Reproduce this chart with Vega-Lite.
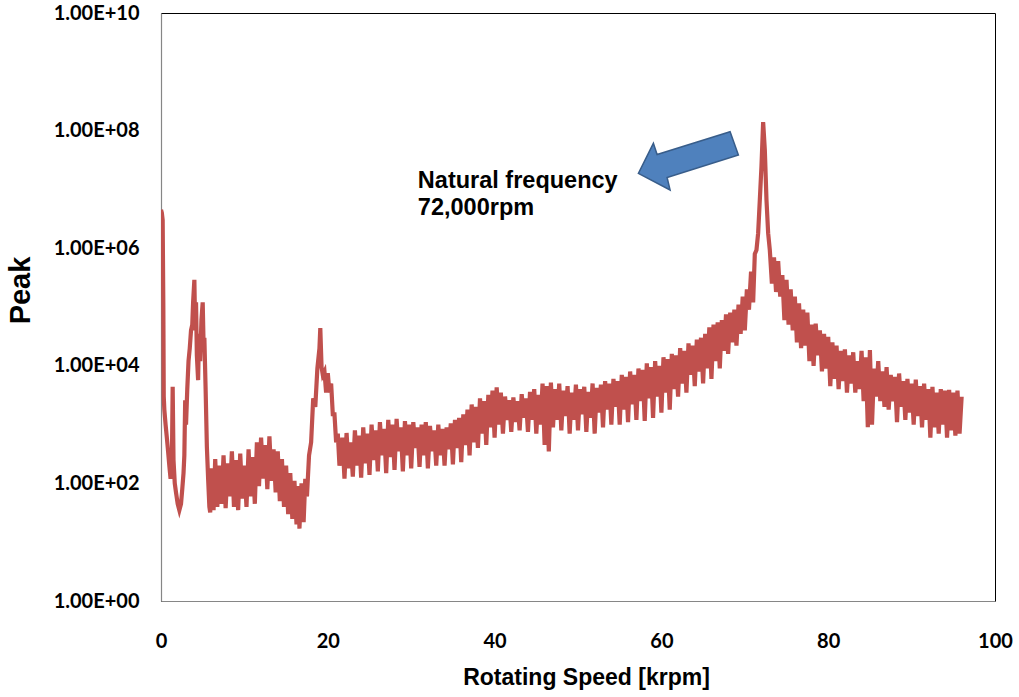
{
  "$schema": "https://vega.github.io/schema/vega-lite/v6.json",
  "autosize": {"type": "none"},
  "width": 834,
  "height": 588,
  "padding": {"left": 161, "top": 13, "right": 24, "bottom": 96},
  "background": "white",
  "config": {
    "view": {"stroke": "#000000", "strokeWidth": 1},
    "axis": {"grid": false, "ticks": false, "domainColor": "#868686", "domainWidth": 1.2, "labelFont": "Lato", "labelFontWeight": "bold", "labelFontSize": 20, "labelColor": "#000000", "titleFont": "Liberation Sans", "titleFontWeight": "bold", "titleColor": "#000000"}
  },
  "datasets": {
    "spectrum": [
      {"x":0.0,"y":4500000},{"x":0.1,"y":4000000},{"x":0.2,"y":3000000},{"x":0.28,"y":100000},{"x":0.33,"y":3000},{"x":0.4,"y":1800},{"x":0.55,"y":1000},{"x":0.7,"y":600},{"x":0.85,"y":350},{"x":1.0,"y":200},{"x":1.15,"y":120},{"x":1.3,"y":200},{"x":1.4,"y":4400},{"x":1.5,"y":250},{"x":1.65,"y":100},{"x":1.8,"y":70},{"x":2.0,"y":45},{"x":2.2,"y":35},{"x":2.4,"y":45},{"x":2.55,"y":80},{"x":2.7,"y":150},{"x":2.8,"y":300},{"x":2.9,"y":2600},{"x":3.0,"y":1000},{"x":3.15,"y":4000},{"x":3.3,"y":12000},{"x":3.45,"y":20000},{"x":3.6,"y":40000},{"x":3.75,"y":50000},{"x":3.85,"y":120000},{"x":4.0,"y":290000},{"x":4.1,"y":40000},{"x":4.2,"y":120000},{"x":4.3,"y":15000},{"x":4.45,"y":5700},{"x":4.55,"y":35000},{"x":4.7,"y":12000},{"x":4.85,"y":60000},{"x":5.0,"y":120000},{"x":5.1,"y":25000},{"x":5.2,"y":30000},{"x":5.35,"y":4000},{"x":5.5,"y":420},{"x":5.65,"y":120},{"x":5.8,"y":40},{"x":5.9,"y":32},
      {"x":6.1,"y":180},{"x":6.3,"y":35},{"x":6.5,"y":260},{"x":6.75,"y":40},{"x":7.0,"y":200},{"x":7.25,"y":45},{"x":7.5,"y":300},{"x":7.75,"y":38},{"x":8.0,"y":220},{"x":8.25,"y":60},{"x":8.5,"y":350},{"x":8.75,"y":40},{"x":9.0,"y":250},{"x":9.25,"y":35},{"x":9.5,"y":320},{"x":9.75,"y":55},{"x":10.0,"y":200},{"x":10.25,"y":40},{"x":10.5,"y":380},{"x":10.75,"y":60},{"x":11.0,"y":280},{"x":11.25,"y":45},{"x":11.5,"y":500},{"x":11.75,"y":90},{"x":12.0,"y":600},{"x":12.25,"y":120},{"x":12.5,"y":450},{"x":12.75,"y":80},{"x":13.0,"y":630},{"x":13.25,"y":110},{"x":13.5,"y":380},{"x":13.75,"y":70},{"x":14.0,"y":350},{"x":14.25,"y":50},{"x":14.5,"y":260},{"x":14.75,"y":40},{"x":15.0,"y":200},{"x":15.25,"y":30},{"x":15.5,"y":150},{"x":15.75,"y":25},{"x":16.0,"y":110},{"x":16.25,"y":20},{"x":16.5,"y":90},{"x":16.6,"y":17},{"x":16.85,"y":100},{"x":17.1,"y":22},{"x":17.3,"y":120},{"x":17.5,"y":60},
      {"x":17.75,"y":300},{"x":18.0,"y":500},{"x":18.25,"y":2800},{"x":18.5,"y":2000},{"x":18.75,"y":9000},{"x":19.0,"y":20000},{"x":19.1,"y":44000},{"x":19.25,"y":9500},{"x":19.4,"y":7000},{"x":19.6,"y":8000},{"x":19.8,"y":3500},{"x":20.0,"y":7500},{"x":20.2,"y":3500},{"x":20.4,"y":5000},{"x":20.6,"y":1500},{"x":20.8,"y":1500},{"x":21.0,"y":500},{"x":21.2,"y":700},{"x":21.4,"y":200},
      {"x":21.75,"y":600},{"x":22.0,"y":120},{"x":22.25,"y":720},{"x":22.5,"y":180},{"x":22.75,"y":500},{"x":23.0,"y":130},{"x":23.25,"y":800},{"x":23.5,"y":200},{"x":23.75,"y":650},{"x":24.0,"y":125},{"x":24.25,"y":900},{"x":24.5,"y":220},{"x":24.75,"y":700},{"x":25.0,"y":140},{"x":25.25,"y":1000},{"x":25.5,"y":250},{"x":25.75,"y":800},{"x":26.0,"y":160},{"x":26.25,"y":1100},{"x":26.5,"y":300},{"x":26.75,"y":850},{"x":27.0,"y":150},{"x":27.25,"y":1200},{"x":27.5,"y":280},{"x":27.75,"y":1000},{"x":28.0,"y":170},{"x":28.25,"y":1250},{"x":28.5,"y":350},{"x":28.75,"y":900},{"x":29.0,"y":160},{"x":29.25,"y":1150},{"x":29.5,"y":300},{"x":29.75,"y":1000},{"x":30.0,"y":180},{"x":30.25,"y":1100},{"x":30.5,"y":400},{"x":30.75,"y":900},{"x":31.0,"y":190},{"x":31.25,"y":1000},{"x":31.5,"y":300},{"x":31.75,"y":1100},{"x":32.0,"y":180},{"x":32.25,"y":950},{"x":32.5,"y":350},{"x":32.75,"y":800},{"x":33.0,"y":200},{"x":33.25,"y":1000},{"x":33.5,"y":300},{"x":33.75,"y":850},{"x":34.0,"y":200},{"x":34.25,"y":900},{"x":34.5,"y":380},{"x":34.75,"y":1050},{"x":35.0,"y":210},{"x":35.25,"y":1200},{"x":35.5,"y":400},{"x":35.75,"y":1300},{"x":36.0,"y":230},{"x":36.25,"y":1500},{"x":36.5,"y":450},{"x":36.75,"y":1800},{"x":37.0,"y":300},{"x":37.25,"y":2200},{"x":37.5,"y":500},{"x":37.75,"y":2000},{"x":38.0,"y":400},{"x":38.25,"y":2800},{"x":38.5,"y":700},{"x":38.75,"y":2500},{"x":39.0,"y":450},{"x":39.25,"y":3200},{"x":39.5,"y":900},{"x":39.75,"y":3800},{"x":40.0,"y":600},{"x":40.25,"y":4300},{"x":40.5,"y":1000},{"x":40.75,"y":3500},{"x":41.0,"y":700},{"x":41.25,"y":3000},{"x":41.5,"y":1200},{"x":41.75,"y":2600},{"x":42.0,"y":750},{"x":42.25,"y":2900},{"x":42.5,"y":1100},{"x":42.75,"y":2500},{"x":43.0,"y":800},{"x":43.25,"y":3300},{"x":43.5,"y":1300},{"x":43.75,"y":2800},{"x":44.0,"y":750},{"x":44.25,"y":3600},{"x":44.5,"y":1200},{"x":44.75,"y":4000},{"x":45.0,"y":700},{"x":45.25,"y":3200},{"x":45.5,"y":1000},{"x":45.75,"y":5000},{"x":46.0,"y":450},{"x":46.25,"y":4500},{"x":46.5,"y":350},{"x":46.75,"y":5200},{"x":47.0,"y":900},{"x":47.25,"y":4000},{"x":47.5,"y":1200},{"x":47.75,"y":5000},{"x":48.0,"y":800},{"x":48.25,"y":3800},{"x":48.5,"y":1400},{"x":48.75,"y":4500},{"x":49.0,"y":700},{"x":49.25,"y":3500},{"x":49.5,"y":1200},{"x":49.75,"y":4800},{"x":50.0,"y":800},{"x":50.25,"y":4000},{"x":50.5,"y":1500},{"x":50.75,"y":4400},{"x":51.0,"y":750},{"x":51.25,"y":3600},{"x":51.5,"y":1300},{"x":51.75,"y":5000},{"x":52.0,"y":700},{"x":52.25,"y":4200},{"x":52.5,"y":1600},{"x":52.75,"y":4800},{"x":53.0,"y":900},{"x":53.25,"y":5500},{"x":53.5,"y":1800},{"x":53.75,"y":5000},{"x":54.0,"y":1000},{"x":54.25,"y":6000},{"x":54.5,"y":2000},{"x":54.75,"y":5500},{"x":55.0,"y":1000},{"x":55.25,"y":7000},{"x":55.5,"y":1800},{"x":55.75,"y":6500},{"x":56.0,"y":1100},{"x":56.25,"y":8000},{"x":56.5,"y":2200},{"x":56.75,"y":7000},{"x":57.0,"y":1200},{"x":57.25,"y":9000},{"x":57.5,"y":2500},{"x":57.75,"y":8500},{"x":58.0,"y":1150},{"x":58.25,"y":11000},{"x":58.5,"y":2800},{"x":58.75,"y":9500},{"x":59.0,"y":1300},{"x":59.25,"y":12000},{"x":59.5,"y":3000},{"x":59.75,"y":10000},{"x":60.0,"y":1600},{"x":60.25,"y":14000},{"x":60.5,"y":3500},{"x":60.75,"y":13000},{"x":61.0,"y":1800},{"x":61.25,"y":16000},{"x":61.5,"y":4000},{"x":61.75,"y":15000},{"x":62.0,"y":3000},{"x":62.25,"y":20000},{"x":62.5,"y":5000},{"x":62.75,"y":18000},{"x":63.0,"y":3500},{"x":63.25,"y":24000},{"x":63.5,"y":7000},{"x":63.75,"y":22000},{"x":64.0,"y":4500},{"x":64.25,"y":28000},{"x":64.5,"y":8000},{"x":64.75,"y":30000},{"x":65.0,"y":5000},{"x":65.25,"y":35000},{"x":65.5,"y":9000},{"x":65.75,"y":45000},{"x":66.0,"y":6000},{"x":66.25,"y":50000},{"x":66.5,"y":12000},{"x":66.75,"y":55000},{"x":67.0,"y":9000},{"x":67.25,"y":60000},{"x":67.5,"y":18000},{"x":67.75,"y":75000},{"x":68.0,"y":16000},{"x":68.25,"y":80000},{"x":68.5,"y":25000},{"x":68.75,"y":90000},{"x":69.0,"y":22000},{"x":69.25,"y":110000},{"x":69.5,"y":35000},{"x":69.75,"y":150000},{"x":70.0,"y":40000},{"x":70.25,"y":200000},{"x":70.5,"y":90000},{"x":70.75,"y":400000},{"x":71.0,"y":120000},{"x":71.2,"y":800000},{"x":71.4,"y":930000},{"x":71.6,"y":1800000},{"x":71.8,"y":6600000},{"x":72.0,"y":25000000},{"x":72.2,"y":140000000},{"x":72.4,"y":47000000},{"x":72.6,"y":6600000},{"x":72.8,"y":1800000},{"x":73.0,"y":930000},{"x":73.25,"y":250000},{"x":73.5,"y":700000},{"x":73.75,"y":180000},
      {"x":74.0,"y":600000},{"x":74.25,"y":150000},{"x":74.5,"y":350000},{"x":74.75,"y":60000},{"x":75.0,"y":290000},{"x":75.25,"y":50000},{"x":75.5,"y":200000},{"x":75.75,"y":40000},{"x":76.0,"y":150000},{"x":76.25,"y":25000},{"x":76.5,"y":115000},{"x":76.75,"y":20000},{"x":77.0,"y":90000},{"x":77.25,"y":22000},{"x":77.5,"y":80000},{"x":77.75,"y":12000},{"x":78.0,"y":50000},{"x":78.25,"y":10000},{"x":78.5,"y":52000},{"x":78.75,"y":15000},{"x":79.0,"y":40000},{"x":79.25,"y":8000},{"x":79.5,"y":35000},{"x":79.75,"y":9000},{"x":80.0,"y":31000},{"x":80.25,"y":4500},{"x":80.5,"y":25000},{"x":80.75,"y":6000},{"x":81.0,"y":22000},{"x":81.25,"y":4000},{"x":81.5,"y":18000},{"x":81.75,"y":5500},{"x":82.0,"y":19000},{"x":82.25,"y":3500},{"x":82.5,"y":15000},{"x":82.75,"y":5000},{"x":83.0,"y":17000},{"x":83.25,"y":3500},{"x":83.5,"y":12000},{"x":83.75,"y":4000},{"x":84.0,"y":18000},{"x":84.25,"y":2500},{"x":84.5,"y":14000},{"x":84.75,"y":900},{"x":85.0,"y":18600},{"x":85.25,"y":1000},{"x":85.5,"y":9000},{"x":85.75,"y":3000},{"x":86.0,"y":12000},{"x":86.25,"y":2500},{"x":86.5,"y":8000},{"x":86.75,"y":2000},{"x":87.0,"y":9500},{"x":87.25,"y":1800},{"x":87.5,"y":7000},{"x":87.75,"y":2500},{"x":88.0,"y":6500},{"x":88.25,"y":1100},{"x":88.5,"y":7400},{"x":88.75,"y":2000},{"x":89.0,"y":5500},{"x":89.25,"y":1200},{"x":89.5,"y":6000},{"x":89.75,"y":1600},{"x":90.0,"y":5000},{"x":90.25,"y":1000},{"x":90.5,"y":5800},{"x":90.75,"y":1400},{"x":91.0,"y":4500},{"x":91.25,"y":900},{"x":91.5,"y":5000},{"x":91.75,"y":1200},{"x":92.0,"y":4000},{"x":92.25,"y":600},{"x":92.5,"y":4400},{"x":92.75,"y":900},{"x":93.0,"y":3500},{"x":93.25,"y":700},{"x":93.5,"y":4000},{"x":93.75,"y":1000},{"x":94.0,"y":3800},{"x":94.25,"y":600},{"x":94.5,"y":3900},{"x":94.75,"y":800},{"x":95.0,"y":3500},{"x":95.25,"y":650},{"x":95.5,"y":3800},{"x":95.75,"y":700},{"x":96.0,"y":3000}
    ],
    "notes": [
      {"x": 30.8, "y": 10450000, "label": "Natural frequency"},
      {"x": 30.8, "y": 3670000, "label": "72,000rpm"}
    ],
    "arrow": [
      {"x": 63.2, "y": 31600000}
    ]
  },
  "layer": [
    {
      "data": {"name": "spectrum"},
      "mark": {"type": "line", "color": "#C0504D", "strokeWidth": 4.2, "strokeJoin": "miter", "clip": true},
      "encoding": {
        "x": {"field": "x", "type": "quantitative", "scale": {"domain": [0, 100], "nice": false, "zero": false},
          "axis": {"values": [0, 20, 40, 60, 80, 100], "labelPadding": 30, "title": "Rotating Speed [krpm]", "titleFontSize": 23, "titlePadding": 15, "titleX": 425, "labelFlush": false}},
        "y": {"field": "y", "type": "quantitative", "scale": {"type": "log", "domain": [1, 10000000000], "nice": false},
          "axis": {"values": [1, 100, 10000, 1000000, 100000000, 10000000000], "labelPadding": 22, "labelFlush": false,
            "labelExpr": "'1.00E+' + (round(log(datum.value)/LN10) < 10 ? '0' : '') + round(log(datum.value)/LN10)",
            "title": "Peak", "titleFontSize": 29, "titlePadding": 18, "titleY": 277}}
      }
    },
    {
      "data": {"name": "arrow"},
      "mark": {"type": "point", "shape": "M -49.7 13.3 L -18 30 L -21 17.5 L 50.3 -5 L 42 -28.3 L -31 -5.5 L -34.7 -16.7 Z", "size": 4, "filled": true, "fill": "#4F81BD", "stroke": "#385D8A", "strokeWidth": 1.5, "opacity": 1},
      "encoding": {
        "x": {"field": "x", "type": "quantitative"},
        "y": {"field": "y", "type": "quantitative"}
      }
    },
    {
      "data": {"name": "notes"},
      "mark": {"type": "text", "align": "left", "baseline": "alphabetic", "font": "Liberation Sans", "fontWeight": "bold", "fontSize": 23.5, "color": "#000000"},
      "encoding": {
        "x": {"field": "x", "type": "quantitative"},
        "y": {"field": "y", "type": "quantitative"},
        "text": {"field": "label"}
      }
    }
  ]
}
